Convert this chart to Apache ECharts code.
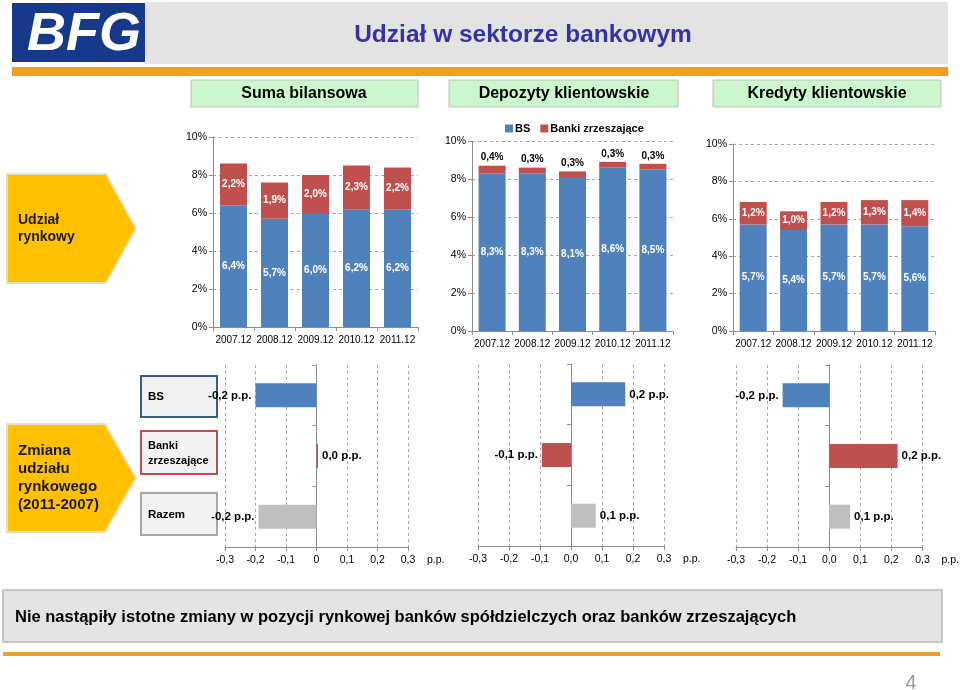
<!DOCTYPE html>
<html>
<head>
<meta charset="utf-8">
<script src="https://cdn.jsdelivr.net/npm/echarts@6/dist/echarts.min.js"></script>
<style>
html,body{margin:0;padding:0;background:#fff;}
#c{width:960px;height:690px;}
</style>
</head>
<body>
<div id="c"></div>
<script>
// ---- data ----
const categories = ['2007.12','2008.12','2009.12','2010.12','2011.12'];
const sumaBS = [6.4, 5.7, 6.0, 6.2, 6.2];
const sumaBZ = [2.2, 1.9, 2.0, 2.3, 2.2];
const depBS  = [8.3, 8.3, 8.1, 8.6, 8.5];
const depBZ  = [0.4, 0.3, 0.3, 0.3, 0.3];
const kredBS = [5.7, 5.4, 5.7, 5.7, 5.6];
const kredBZ = [1.2, 1.0, 1.2, 1.3, 1.4];
const changeCats = ['BS', 'Banki zrzeszające', 'Razem'];
const changeSuma = [-0.20, 0.005, -0.19];
const changeDep  = [0.175, -0.094, 0.08];
const changeKred = [-0.15, 0.22, 0.067];
const ppTicksA  = ['-0,3','-0,2','-0,1','0','0,1','0,2','0,3'];
const ppTicksBC = ['-0,3','-0,2','-0,1','0,0','0,1','0,2','0,3'];
const seriesNames = ['BS', 'Banki zrzeszające'];

// ---- styles ----
const BLUE = '#4f81bd', RED = '#c0504d', GRAY = '#bfbfbf';
const changeColors = [BLUE, RED, GRAY];
const FONT = 'Arial, "Liberation Sans", sans-serif';
const AX = '#8c8c8c';

const chart = echarts.init(document.getElementById('c'), null, {renderer: 'canvas'});

const topGrids = [
  {left: 213, top: 137, width: 205, height: 190},
  {left: 472, top: 141, width: 201, height: 190},
  {left: 733, top: 144, width: 202, height: 187}
];
const botGrids = [
  {left: 225, top: 365, width: 183, height: 182},
  {left: 478, top: 364, width: 186, height: 182},
  {left: 736, top: 365, width: 187, height: 182}
];

const pct = v => v.toFixed(1).replace('.', ',') + '%';
const pp = v => {
  const r = Math.sign(v) * Math.round(Math.abs(v) * 10) / 10;
  return r.toFixed(1).replace('.', ',') + ' p.p.';
};

const grid = [], xAxis = [], yAxis = [], series = [];
const topData = [[sumaBS, sumaBZ], [depBS, depBZ], [kredBS, kredBZ]];
topGrids.forEach((g, i) => {
  grid.push(Object.assign({containLabel: false}, g));
  xAxis.push({
    type: 'category', gridIndex: i, data: categories,
    axisLine: {lineStyle: {color: AX}},
    axisTick: {show: true, length: 4, lineStyle: {color: AX}},
    axisLabel: {color: '#000', fontSize: 10, fontFamily: FONT, margin: 8, interval: 0}
  });
  yAxis.push({
    type: 'value', gridIndex: i, min: 0, max: 10, interval: 2,
    axisLine: {show: true, lineStyle: {color: AX}},
    axisTick: {show: true, length: 4, lineStyle: {color: AX}},
    axisLabel: {color: '#000', fontSize: 10.5, fontFamily: FONT, margin: 6, formatter: '{value}%'},
    splitLine: {lineStyle: {color: '#a6a6a6', type: [3, 3]}}
  });
  const [bs, bz] = topData[i];
  series.push({
    name: seriesNames[0], type: 'bar', stack: 's' + i, xAxisIndex: i, yAxisIndex: i,
    data: bs, barWidth: 27, itemStyle: {color: BLUE},
    label: {show: true, position: 'inside', color: '#fff', fontWeight: 'bold', fontSize: 10,
            fontFamily: FONT, formatter: p => pct(p.value)}
  });
  series.push({
    name: seriesNames[1], type: 'bar', stack: 's' + i, xAxisIndex: i, yAxisIndex: i,
    data: bz, barWidth: 27, itemStyle: {color: RED},
    label: i === 1
      ? {show: true, position: 'top', distance: 3, color: '#000', fontWeight: 'bold', fontSize: 10,
         fontFamily: FONT, formatter: p => pct(p.value)}
      : {show: true, position: 'inside', color: '#fff', fontWeight: 'bold', fontSize: 10,
         fontFamily: FONT, formatter: p => pct(p.value)}
  });
});

const botData = [changeSuma, changeDep, changeKred];
botGrids.forEach((g, j) => {
  const gi = 3 + j;
  grid.push(Object.assign({containLabel: false}, g));
  const ticks = j === 0 ? ppTicksA : ppTicksBC;
  xAxis.push({
    type: 'value', gridIndex: gi, min: -0.3, max: 0.3, interval: 0.1,
    axisLine: {show: true, lineStyle: {color: AX}},
    axisTick: {show: true, length: 4, lineStyle: {color: AX}},
    axisLabel: {color: '#000', fontSize: 10.5, fontFamily: FONT, margin: 8,
                formatter: v => ticks[Math.round((v + 0.3) * 10)]},
    splitLine: {lineStyle: {color: '#a6a6a6', type: [3, 3]}},
    name: 'p.p.', nameLocation: 'end', nameGap: 19,
    nameTextStyle: {color: '#000', fontSize: 10.5, fontFamily: FONT, verticalAlign: 'top', padding: [8, 0, 0, 0]}
  });
  yAxis.push({
    type: 'category', gridIndex: gi, data: changeCats, inverse: true,
    axisLine: {show: true, onZero: true, lineStyle: {color: AX}},
    axisTick: {show: true, length: 4, lineStyle: {color: AX}},
    axisLabel: {show: false},
    splitLine: {show: false}
  });
  series.push({
    type: 'bar', xAxisIndex: gi, yAxisIndex: gi, barWidth: 24,
    data: botData[j].map((v, k) => ({value: v, itemStyle: {color: changeColors[k]}})),
    label: {show: true, position: 'outside', distance: 4, color: '#000', fontWeight: 'bold',
            fontSize: 11.5, fontFamily: FONT, formatter: p => pp(p.value)}
  });
});

function pentagon(x, y, w, h, tip) {
  return [[x, y], [x + w, y], [x + w + tip, y + h / 2], [x + w, y + h], [x, y + h]];
}

const graphic = [
  // header
  {type: 'rect', shape: {x: 145, y: 2, width: 803, height: 62}, style: {fill: '#e3e3e3'}, z: 0},
  {type: 'rect', shape: {x: 12, y: 3, width: 133, height: 59}, style: {fill: '#17398b'}, z: 1},
  {type: 'text', x: 84, y: 35, scaleX: 1.02, style: {text: 'BFG', fill: '#fff', font: 'italic 900 53px Arial, "Liberation Sans", sans-serif',
    textAlign: 'center', textVerticalAlign: 'middle'}, z: 2},
  {type: 'text', x: 523, y: 35, style: {text: 'Udział w sektorze bankowym', fill: '#3333a6',
    font: 'bold 24.5px Arial, "Liberation Sans", sans-serif', textAlign: 'center', textVerticalAlign: 'middle'}, z: 2},
  {type: 'rect', shape: {x: 12, y: 67, width: 936, height: 9}, style: {fill: '#f29f1b'}, z: 1},
  // section headers
  {type: 'rect', shape: {x: 191, y: 80, width: 227, height: 27}, style: {fill: '#ccf7cc', stroke: '#b9c4b9', lineWidth: 1}},
  {type: 'text', x: 304, y: 94, style: {text: 'Suma bilansowa', fill: '#000', font: 'bold 16px Arial, "Liberation Sans", sans-serif', textAlign: 'center', textVerticalAlign: 'middle'}},
  {type: 'rect', shape: {x: 449, y: 80, width: 229, height: 27}, style: {fill: '#ccf7cc', stroke: '#b9c4b9', lineWidth: 1}},
  {type: 'text', x: 564, y: 94, style: {text: 'Depozyty klientowskie', fill: '#000', font: 'bold 16px Arial, "Liberation Sans", sans-serif', textAlign: 'center', textVerticalAlign: 'middle'}},
  {type: 'rect', shape: {x: 713, y: 80, width: 228, height: 27}, style: {fill: '#ccf7cc', stroke: '#b9c4b9', lineWidth: 1}},
  {type: 'text', x: 827, y: 94, style: {text: 'Kredyty klientowskie', fill: '#000', font: 'bold 16px Arial, "Liberation Sans", sans-serif', textAlign: 'center', textVerticalAlign: 'middle'}},
  // pentagons
  {type: 'polygon', shape: {points: pentagon(7, 174, 99, 109, 30)}, style: {fill: '#ffc000', stroke: '#e6dfc8', lineWidth: 2}},
  {type: 'text', x: 18, y: 229, style: {text: 'Udział\nrynkowy', fill: '#1a1a1a', font: 'bold 14px Arial, "Liberation Sans", sans-serif',
    lineHeight: 17, textVerticalAlign: 'middle'}},
  {type: 'polygon', shape: {points: pentagon(7, 424, 98, 108, 31)}, style: {fill: '#ffc000', stroke: '#e6dfc8', lineWidth: 2}},
  {type: 'text', x: 18, y: 478, style: {text: 'Zmiana\nudziału\nrynkowego\n(2011-2007)', fill: '#1a1a1a', font: 'bold 15px Arial, "Liberation Sans", sans-serif',
    lineHeight: 18, textVerticalAlign: 'middle'}},
  // row label boxes
  {type: 'rect', shape: {x: 141, y: 376, width: 76, height: 41}, style: {fill: '#f2f2f2', stroke: '#385d8a', lineWidth: 2}},
  {type: 'text', x: 148, y: 397, style: {text: 'BS', fill: '#000', font: 'bold 11.5px ' + FONT, textVerticalAlign: 'middle'}},
  {type: 'rect', shape: {x: 141, y: 431, width: 76, height: 43}, style: {fill: '#f2f2f2', stroke: '#b9504d', lineWidth: 2}},
  {type: 'text', x: 148, y: 453, style: {text: 'Banki\nzrzeszające', fill: '#000', font: 'bold 11px ' + FONT, lineHeight: 15, textVerticalAlign: 'middle'}},
  {type: 'rect', shape: {x: 141, y: 493, width: 76, height: 42}, style: {fill: '#f2f2f2', stroke: '#a6a6a6', lineWidth: 2}},
  {type: 'text', x: 148, y: 515, style: {text: 'Razem', fill: '#000', font: 'bold 11.5px ' + FONT, textVerticalAlign: 'middle'}},
  // bottom box
  {type: 'rect', shape: {x: 3, y: 590, width: 939, height: 52}, style: {fill: '#e4e4e4', stroke: '#c6c6c6', lineWidth: 2}},
  {type: 'text', x: 15, y: 617, style: {text: 'Nie nastąpiły istotne zmiany w pozycji rynkowej banków spółdzielczych oraz banków zrzeszających',
    fill: '#000', font: 'bold 16.5px Arial, "Liberation Sans", sans-serif', textVerticalAlign: 'middle'}},
  {type: 'rect', shape: {x: 3, y: 652, width: 937, height: 4}, style: {fill: '#e8a32e'}},
  {type: 'text', x: 911, y: 683, style: {text: '4', fill: '#999', font: '20px Arial, "Liberation Sans", sans-serif', textAlign: 'center', textVerticalAlign: 'middle'}}
];

chart.setOption({
  animation: false,
  backgroundColor: '#fff',
  textStyle: {fontFamily: FONT},
  legend: {
    data: seriesNames, left: 500, top: 118, icon: 'rect', itemWidth: 8, itemHeight: 8, itemGap: 10,
    textStyle: {color: '#000', fontWeight: 'bold', fontSize: 11, fontFamily: FONT, padding: [0, 0, 0, -3]}
  },
  grid, xAxis, yAxis, series,
  graphic: {elements: graphic}
});
</script>
</body>
</html>
